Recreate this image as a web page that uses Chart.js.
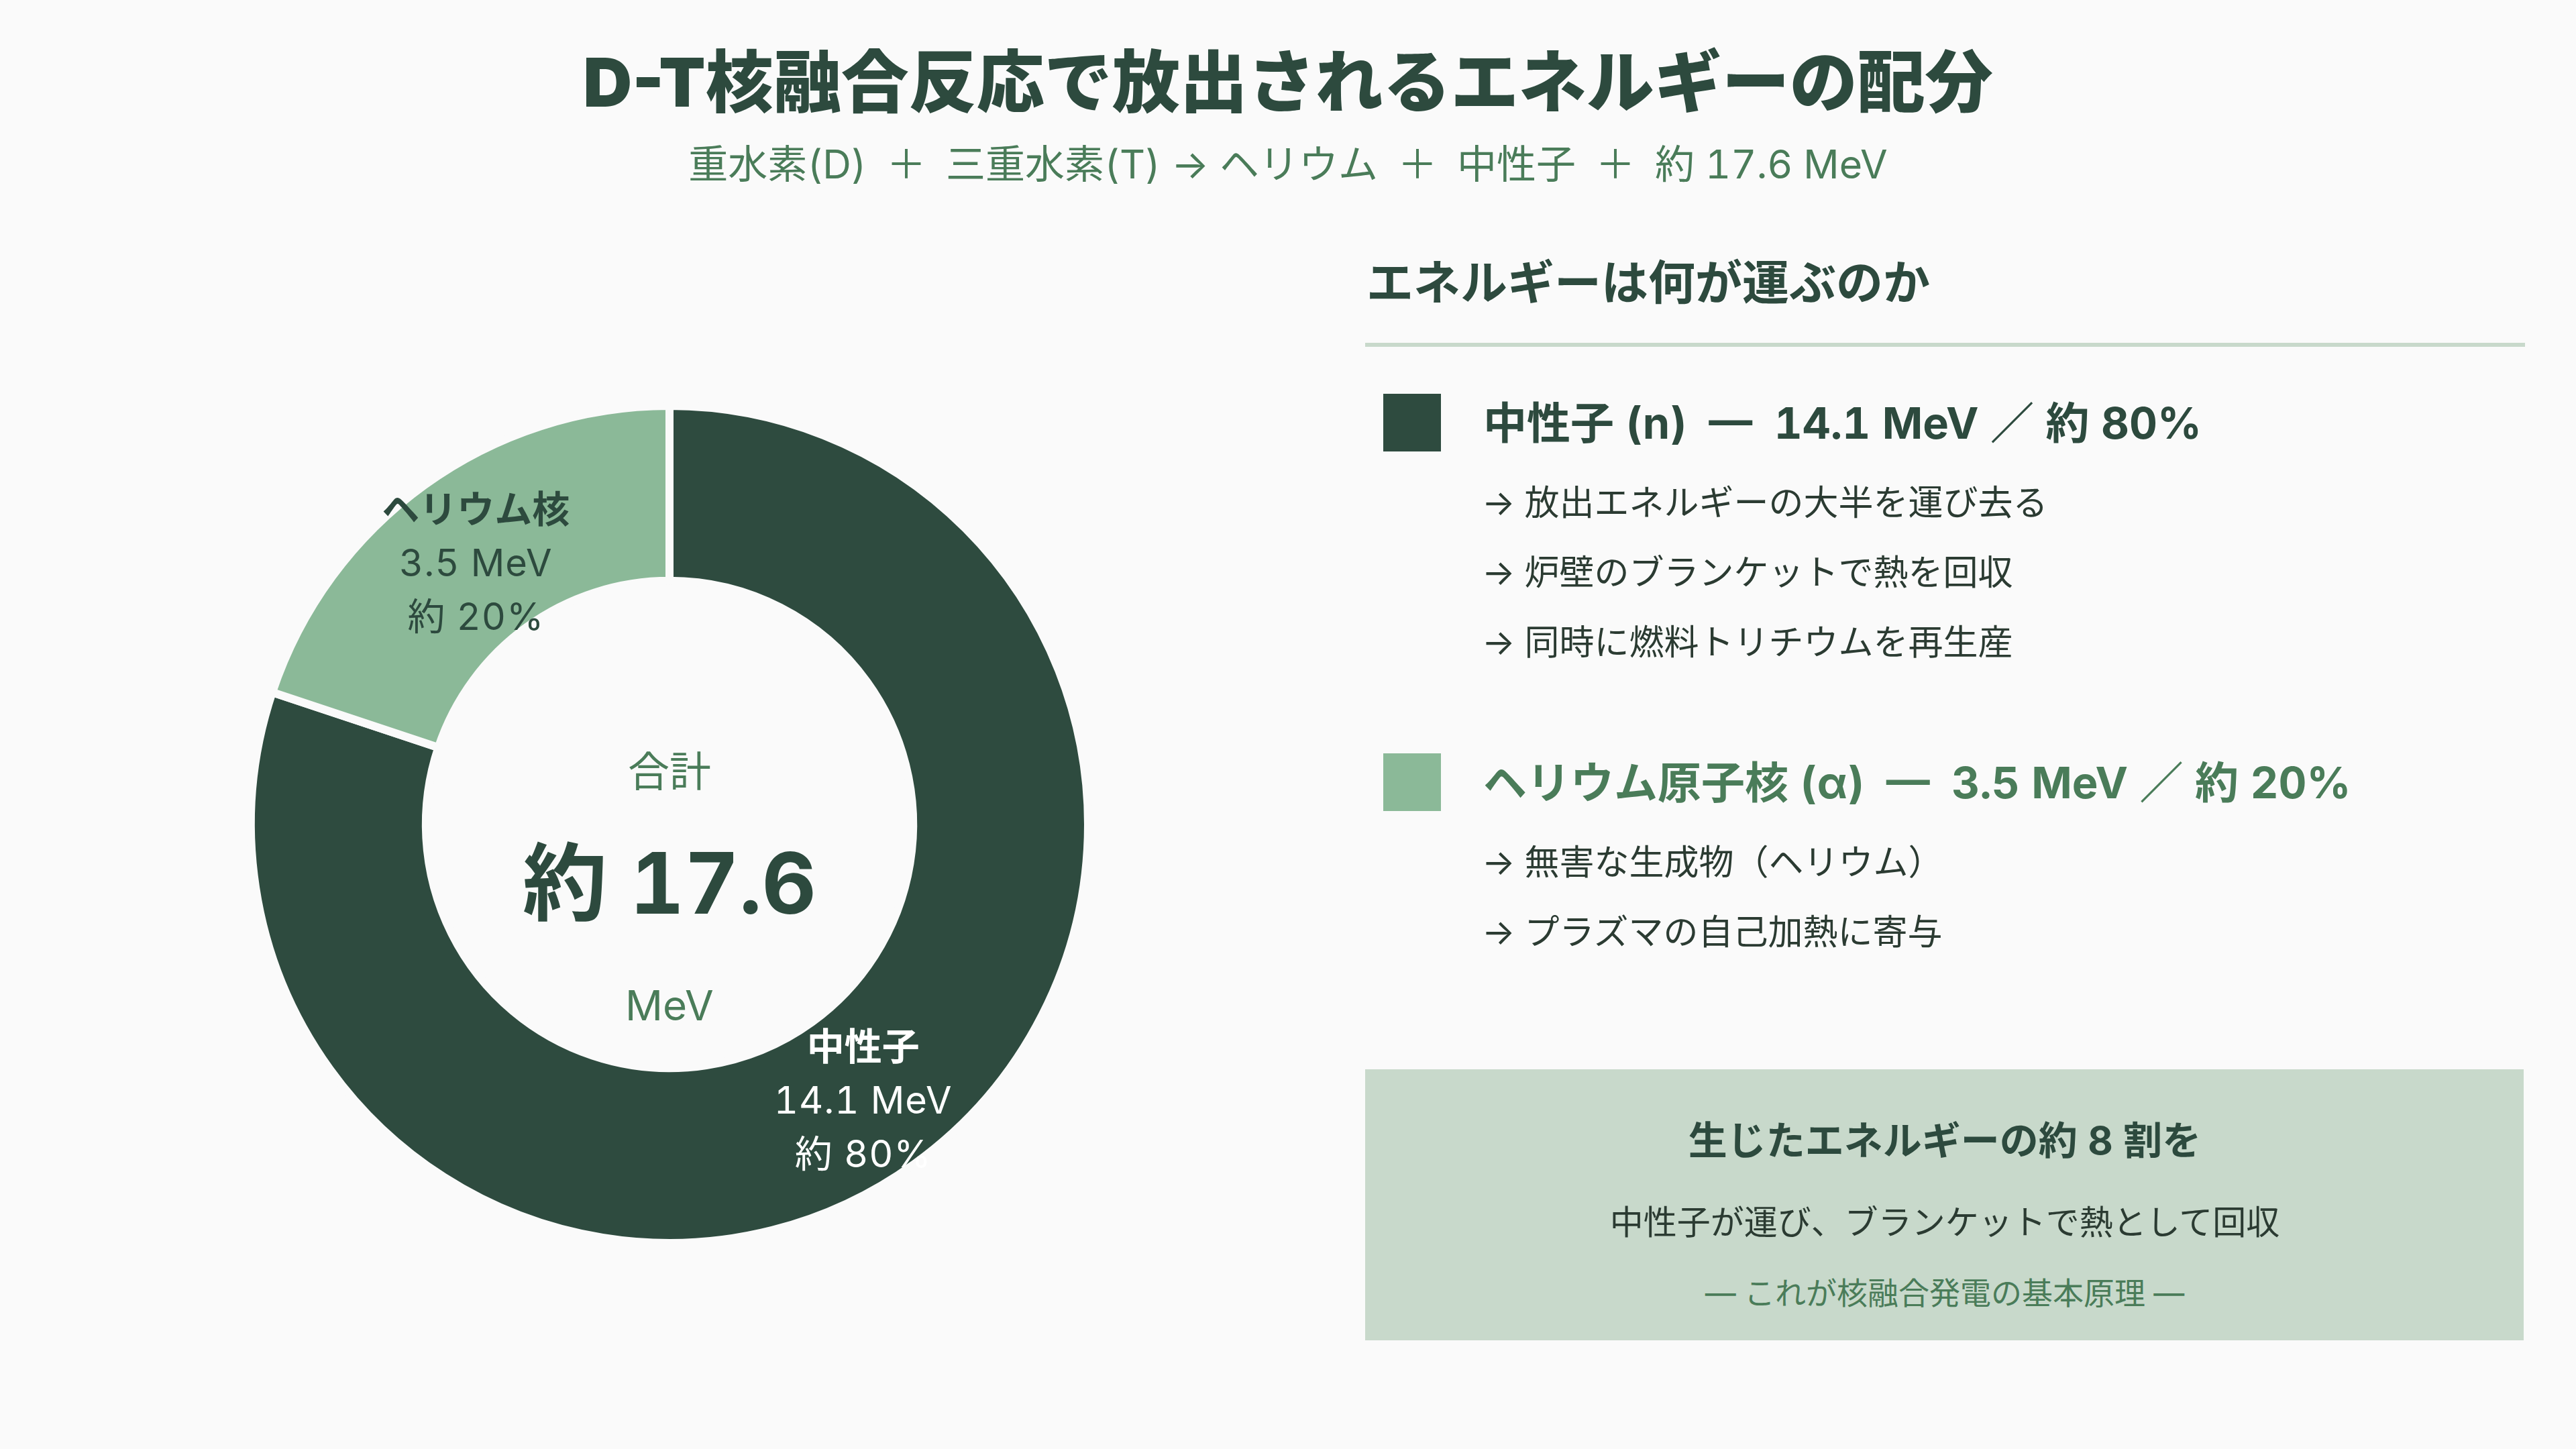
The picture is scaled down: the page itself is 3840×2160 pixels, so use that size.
<!DOCTYPE html>
<html lang="ja">
<head>
<meta charset="UTF-8">
<title>D-T核融合反応で放出されるエネルギーの配分</title>
<script src="https://cdn.jsdelivr.net/npm/chart.js@4.4.1/dist/chart.umd.min.js"></script>
<style>
    html, body {
        margin: 0;
        padding: 0;
        background: #fafafa;
    }
    body {
        position: relative;
        width: 3840px;
        height: 2160px;
        overflow: hidden;
        font-family: Inter, "Noto Sans CJK JP", sans-serif;
        font-variant-numeric: tabular-nums;
        color: #2d4a3e;
    }
    .t {
        position: absolute;
        white-space: nowrap;
        line-height: 1;
        transform: translateY(-50%);
    }
    .c {
        transform: translate(-50%, -50%);
    }
    #title {
        left: 1920px;
        top: 122px;
        font-size: 101px;
        font-weight: 900;
        font-variant-numeric: normal;
        color: #2d4a3e;
    }
    #subtitle {
        left: 1920px;
        top: 244px;
        font-size: 59px;
        color: #4a7c59;
    }
    #chartBox {
        position: absolute;
        left: 298px;
        top: 529px;
        width: 1400px;
        height: 1400px;
    }
    #panelTitle {
        left: 2037px;
        top: 422px;
        font-size: 70px;
        font-weight: 700;
    }
    #rule {
        position: absolute;
        left: 2035px;
        top: 511px;
        width: 1729px;
        height: 6px;
        background: #c8d9cb;
    }
    .swatch {
        position: absolute;
        left: 2062px;
        width: 86px;
        height: 86px;
    }
    .head {
        left: 2211px;
        font-size: 65px;
        font-weight: 700;
    }
    .bullet {
        left: 2209px;
        font-size: 52px;
        color: #2b3b32;
    }
    #note {
        position: absolute;
        left: 2035px;
        top: 1594px;
        width: 1727px;
        height: 404px;
        background: #c8d9cb;
    }
    .noteLine {
        left: 2899px;
    }
</style>
</head>
<body>
<div id="title" class="t c">D-T核融合反応で放出されるエネルギーの配分</div>
<div id="subtitle" class="t c">重水素(D)&ensp;＋&ensp;三重水素(T) → ヘリウム&ensp;＋&ensp;中性子&ensp;＋&ensp;約 17.6 MeV</div>

<div id="chartBox"><canvas id="energyChart"></canvas></div>

<div id="panelTitle" class="t">エネルギーは何が運ぶのか</div>
<div id="rule"></div>
<div id="legend"></div>

<div id="note"></div>
<div class="t c noteLine" style="top:1700px;font-size:58px;font-weight:700;color:#2d4a3e">生じたエネルギーの約 8 割を</div>
<div class="t c noteLine" style="top:1822px;font-size:50px;color:#2b3b32">中性子が運び、ブランケットで熱として回収</div>
<div class="t c noteLine" style="top:1927px;font-size:46px;color:#4a7c59">— これが核融合発電の基本原理 —</div>

<script>
// Data
const particles = ["中性子", "ヘリウム核"];
const legendNames = ["中性子 (n)", "ヘリウム原子核 (α)"];
const energies = [14.1, 3.5]; // MeV
const shares = [80, 20]; // %
const notes = [
    ["放出エネルギーの大半を運び去る", "炉壁のブランケットで熱を回収", "同時に燃料トリチウムを再生産"],
    ["無害な生成物（ヘリウム）", "プラズマの自己加熱に寄与"]
];

// Styles
const sliceColors = ["#2e4b3f", "#8bb998"];
const labelColors = ["#ffffff", "#2d4a3e"];
const headColors = ["#2d4a3e", "#4a7c59"];
const legendTops = [630, 1166];
const bulletGap = 104;
const fontFamily = 'Inter, "Noto Sans CJK JP", sans-serif';

document.addEventListener("DOMContentLoaded", function () {
    buildLegend();
    // make sure the canvas gets the same fonts as the page
    Promise.all([
        document.fonts.load(`400 56px ${fontFamily}`, "14.1 MeV 約"),
        document.fonts.load(`700 56px ${fontFamily}`, "17.6 中性子"),
    ])
        .catch((e) => console.warn("Font load failed:", e))
        .then(initEnergyChart);
});

function buildLegend() {
    const legend = document.getElementById("legend");
    let html = "";
    particles.forEach((p, i) => {
        const y = legendTops[i];
        html += `<div class="swatch" style="top:${y - 43}px;background:${sliceColors[i]}"></div>`;
        html += `<div class="t head" style="top:${y}px;color:${headColors[i]}">${legendNames[i]}&ensp;—&ensp;${energies[i]} MeV ／ 約 ${shares[i]}%</div>`;
        notes[i].forEach((line, j) => {
            html += `<div class="t bullet" style="top:${y + 120 + j * bulletGap}px">→ ${line}</div>`;
        });
    });
    legend.innerHTML = html;
}

// Draws the three-line label in the middle of each slice
const sliceLabels = {
    id: "sliceLabels",
    afterDatasetsDraw(chart) {
        const ctx = chart.ctx;
        const arcs = chart.getDatasetMeta(0).data;
        ctx.save();
        ctx.textAlign = "center";
        ctx.textBaseline = "middle";
        arcs.forEach((arc, i) => {
            const pos = arc.tooltipPosition();
            const y = pos.y + 14;
            ctx.fillStyle = labelColors[i];
            ctx.letterSpacing = "0px";
            ctx.font = `700 56px ${fontFamily}`;
            ctx.fillText(particles[i], pos.x, y - 80);
            ctx.font = `400 56px ${fontFamily}`;
            ctx.letterSpacing = "1px";
            ctx.fillText(energies[i] + " MeV", pos.x, y);
            ctx.fillText("約 " + shares[i] + "%", pos.x, y + 80);
        });
        ctx.restore();
    }
};

// Total in the hole of the doughnut
const centerTotal = {
    id: "centerTotal",
    afterDraw(chart) {
        const ctx = chart.ctx;
        const arc = chart.getDatasetMeta(0).data[0];
        const total = energies.reduce((a, b) => a + b, 0);
        ctx.save();
        ctx.textAlign = "center";
        ctx.textBaseline = "middle";
        ctx.letterSpacing = "0px";
        ctx.fillStyle = "#4a7c59";
        ctx.font = `400 62px ${fontFamily}`;
        ctx.fillText("合計", arc.x, arc.y - 75);
        ctx.fillText("MeV", arc.x, arc.y + 273);
        ctx.fillStyle = "#2d4a3e";
        ctx.font = `700 126px ${fontFamily}`;
        ctx.fillText("約 " + total.toFixed(1), arc.x, arc.y + 95);
        ctx.restore();
    }
};

function initEnergyChart() {
    const ctx = document.getElementById("energyChart");
    if (!ctx) return;

    new Chart(ctx.getContext("2d"), {
        type: "doughnut",
        data: {
            labels: particles,
            datasets: [
                {
                    data: energies,
                    backgroundColor: sliceColors,
                    borderColor: "#fafafa",
                    borderWidth: 12,
                },
            ],
        },
        options: {
            responsive: true,
            maintainAspectRatio: false,
            animation: false,
            radius: 624,
            cutout: "58.2%",
            plugins: {
                legend: {
                    display: false,
                },
                tooltip: {
                    enabled: false,
                },
            },
        },
        plugins: [sliceLabels, centerTotal],
    });
}
</script>
</body>
</html>
